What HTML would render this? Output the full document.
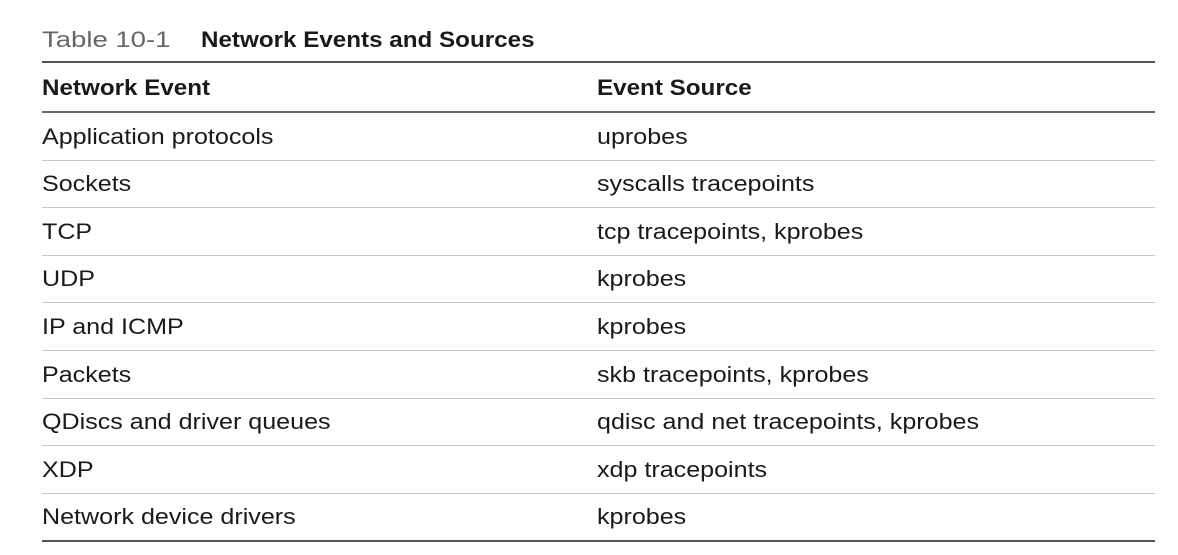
<!DOCTYPE html>
<html><head><meta charset="utf-8"><style>
body{margin:0;width:1178px;height:555px;background:#fff;position:relative;overflow:hidden;font-family:"Liberation Sans",sans-serif;color:#1a1a1a}
.t{position:absolute;font-size:22px;line-height:26px;white-space:nowrap;transform:scaleX(1.14);transform-origin:0 0}
.b{font-weight:bold;transform:scaleX(1.1)}
.l{position:absolute;left:42px;width:1113px}
</style></head><body>
<div class="t" style="left:42px;top:27px;color:#666;transform:scaleX(1.25)">Table 10-1</div>
<div class="t b" style="left:201px;top:27px">Network Events and Sources</div>
<div class="l" style="top:61px;height:2px;background:#555"></div>
<div class="t b" style="left:42px;top:75px">Network Event</div>
<div class="t b" style="left:597px;top:75px">Event Source</div>
<div class="l" style="top:111px;height:2px;background:#666"></div>
<div id="rows"></div>
<script>
const events=["Application protocols","Sockets","TCP","UDP","IP and ICMP","Packets","QDiscs and driver queues","XDP","Network device drivers"];
const sources=["uprobes","syscalls tracepoints","tcp tracepoints, kprobes","kprobes","kprobes","skb tracepoints, kprobes","qdisc and net tracepoints, kprobes","xdp tracepoints","kprobes"];
const c=document.getElementById('rows');
events.forEach((e,i)=>{
 const cy=136+i*47.6;
 const a=document.createElement('div');a.className='t';a.style.left='42px';a.style.top=(cy-12.5)+'px';a.textContent=e;
 
 
 c.appendChild(a);
 const b=document.createElement('div');b.className='t';b.style.left='597px';b.style.top=(cy-12.5)+'px';b.textContent=sources[i];
 
 
 c.appendChild(b);
 const last=i===events.length-1;
 const r=document.createElement('div');r.className='l';r.style.top=(cy+23.5)+'px';
 r.style.height=last?'2px':'1px';r.style.background=last?'#555':'#c8c8c8';
 
 
 c.appendChild(r);
});
</script>
</body></html>
